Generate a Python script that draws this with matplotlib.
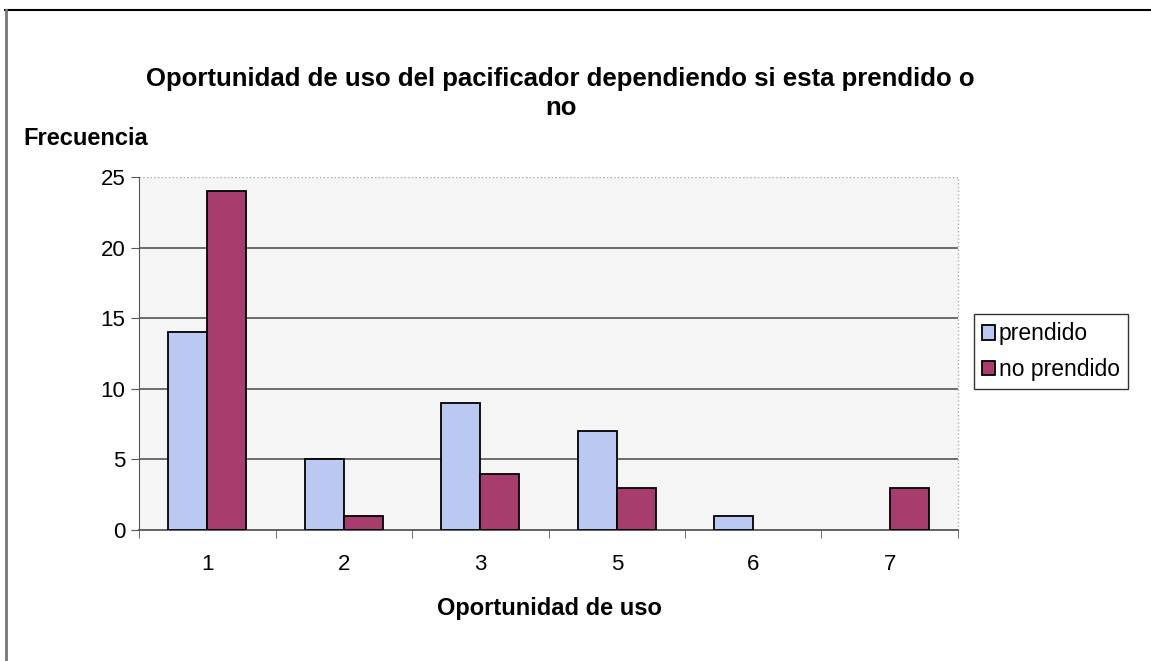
import matplotlib.pyplot as plt
import numpy as np
from matplotlib.lines import Line2D

plt.rcParams['font.family'] = ['Liberation Sans', 'DejaVu Sans']

categorias = ['1', '2', '3', '5', '6', '7']
prendido = [14, 5, 9, 7, 1, 0]
no_prendido = [24, 1, 4, 3, 0, 3]

azul = '#bac8f2'
rojo = '#a63d6c'

fig = plt.figure(figsize=(11.51, 6.61), dpi=100)
ax = fig.add_axes([0.1208, 0.1982, 0.7115, 0.534])
ax.set_facecolor('#f5f5f5')

x = np.arange(len(categorias))
w = 0.2857
# sin borde para las barras con valor 0
bordes_p = ['black' if v > 0 else 'none' for v in prendido]
bordes_n = ['black' if v > 0 else 'none' for v in no_prendido]
ax.bar(x - w / 2, prendido, w, color=azul, edgecolor=bordes_p, linewidth=1.3, label='prendido', zorder=3)
ax.bar(x + w / 2, no_prendido, w, color=rojo, edgecolor=bordes_n, linewidth=1.3, label='no prendido', zorder=3)

ax.set_xlim(-0.5, len(categorias) - 0.5)
ax.set_ylim(0, 25)
ax.set_yticks([0, 5, 10, 15, 20, 25])
ax.set_xticks(x)
ax.set_xticklabels(categorias)
ax.set_xticks(np.arange(len(categorias) + 1) - 0.5, minor=True)
ax.tick_params(axis='x', which='major', length=0, labelsize=16, pad=17)
ax.tick_params(axis='x', which='minor', length=6, direction='out', color='#555555')
ax.tick_params(axis='y', length=6, labelsize=16, color='#555555', pad=4)

for v in [5, 10, 15, 20]:
    ax.axhline(v, color='#555555', linewidth=1.2, zorder=1)
ax.axhline(25, color='#aaaaaa', linewidth=1, linestyle=':', zorder=1)

for s in ['top', 'right']:
    ax.spines[s].set_visible(False)
ax.plot([1, 1], [0, 1], transform=ax.transAxes, color='#aaaaaa', linestyle=':', linewidth=1, clip_on=False)
ax.spines['left'].set_color('#555555')
ax.spines['bottom'].set_color('#555555')
ax.spines['bottom'].set_linewidth(1.3)

fig.text(0.487, 0.880, 'Oportunidad de uso del pacificador dependiendo si esta prendido o',
         ha='center', va='center', fontsize=18.5, fontweight='bold')
fig.text(0.487, 0.836, 'no', ha='center', va='center', fontsize=18.5, fontweight='bold')
fig.text(0.020, 0.791, 'Frecuencia', ha='left', va='center', fontsize=17, fontweight='bold')
fig.text(0.477, 0.079, 'Oportunidad de uso', ha='center', va='center', fontsize=17, fontweight='bold')

leg = fig.legend(loc='center left', bbox_to_anchor=(0.836, 0.468), fontsize=16.5,
                 frameon=True, fancybox=False, edgecolor='black', handlelength=0.6,
                 handleheight=0.6, handletextpad=0.15, borderpad=0.35, labelspacing=0.55)
leg.get_frame().set_linewidth(1.0)

# marco exterior
fig.add_artist(Line2D([0.004, 1.0], [0.985, 0.985], color='black', linewidth=1.5))
fig.add_artist(Line2D([0.005, 0.005], [0.0, 0.985], color='#777777', linewidth=2))

fig.savefig('out.png', dpi=100)
